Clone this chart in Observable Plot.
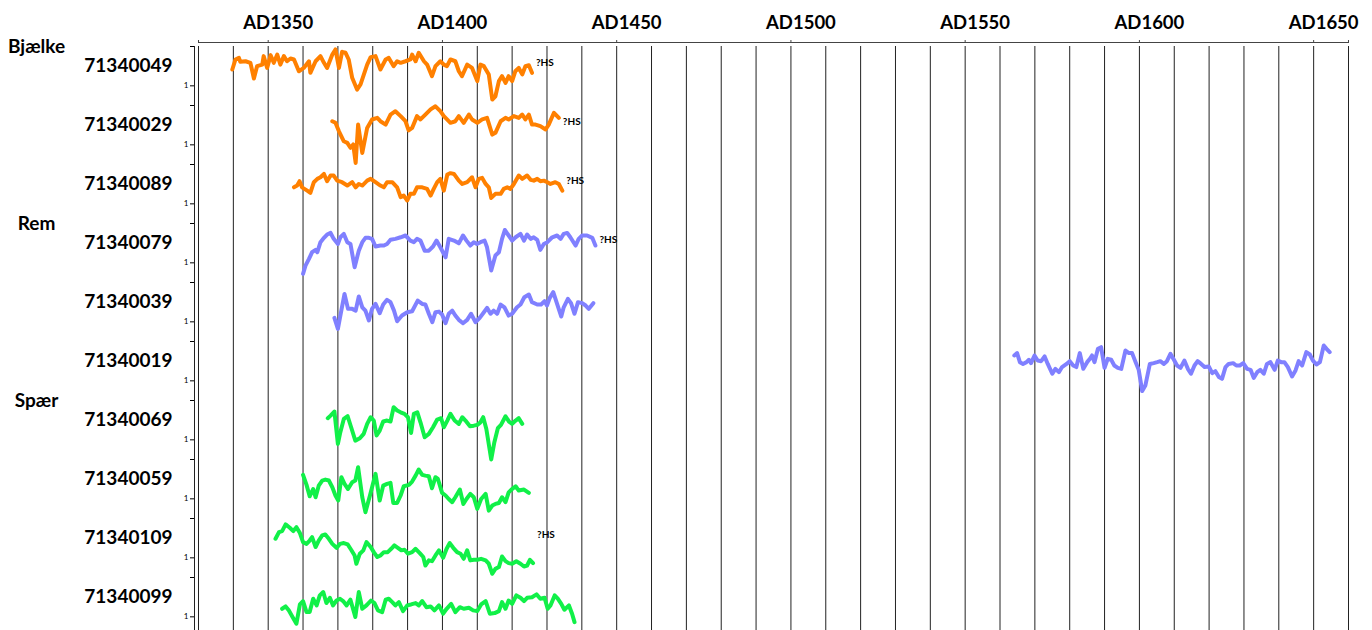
<!DOCTYPE html>
<html><head><meta charset="utf-8">
<script src="https://cdn.jsdelivr.net/npm/d3@7"></script>
<script src="https://cdn.jsdelivr.net/npm/@observablehq/plot@0.6"></script>
<style>
html,body{margin:0;padding:0;background:#fff;overflow:hidden;}
#chart svg{display:block;}
</style></head><body><div id="chart"></div>
<script>
// [year, index value]
const s71340049 = [[1339.7,1.83],[1340.6,2.34],[1341.6,2.42],[1342.0,2.22],[1343.5,2.25],[1344.9,2.17],[1345.9,1.37],[1346.8,2.00],[1348.3,2.08],[1348.7,2.51],[1349.7,1.91],[1350.7,2.56],[1351.6,2.17],[1352.6,2.59],[1353.5,2.08],[1354.5,2.51],[1355.4,2.25],[1356.4,2.39],[1357.4,2.34],[1358.8,1.74],[1360.2,1.91],[1361.7,2.25],[1362.1,1.66],[1363.6,2.25],[1365.0,2.51],[1366.0,2.17],[1366.9,1.91],[1368.4,2.59],[1369.3,2.85],[1370.3,1.91],[1371.2,2.73],[1372.2,2.68],[1373.1,2.34],[1374.1,1.41],[1375.5,0.81],[1376.5,1.07],[1378.4,2.08],[1379.4,2.46],[1380.8,2.51],[1382.2,1.83],[1383.7,2.34],[1384.6,2.42],[1386.0,2.00],[1387.0,2.25],[1388.0,2.17],[1389.4,2.25],[1390.8,2.34],[1391.3,2.59],[1392.3,2.25],[1393.2,2.68],[1394.7,2.25],[1395.6,2.08],[1397.0,1.49],[1398.0,2.00],[1399.4,2.25],[1400.4,2.08],[1401.3,2.00],[1402.3,2.34],[1403.7,2.25],[1404.7,1.74],[1405.6,1.49],[1407.1,2.08],[1408.5,1.91],[1410.0,1.24],[1410.9,2.08],[1411.9,2.00],[1413.3,1.58],[1414.3,0.30],[1415.2,0.47],[1416.2,1.24],[1417.1,1.49],[1418.1,1.15],[1419.0,1.49],[1420.0,1.24],[1420.9,1.74],[1421.9,1.91],[1422.9,1.58],[1423.8,2.00],[1424.8,2.05],[1425.7,1.66]];
const s71340029 = [[1368.4,2.20],[1369.3,2.12],[1370.3,1.69],[1371.7,1.18],[1372.7,1.10],[1373.6,0.85],[1374.4,1.02],[1375.1,0.08],[1375.8,2.03],[1377.0,0.59],[1378.4,1.86],[1379.8,2.29],[1381.3,2.37],[1382.2,2.20],[1383.7,2.03],[1385.1,2.54],[1386.5,2.71],[1388.0,2.46],[1389.4,2.20],[1390.3,1.73],[1391.3,1.86],[1392.7,2.46],[1393.7,2.29],[1395.1,2.54],[1396.6,2.80],[1398.0,2.96],[1399.4,2.71],[1400.4,2.46],[1402.3,2.12],[1403.7,2.20],[1404.7,2.46],[1406.1,2.12],[1407.6,2.54],[1408.5,2.29],[1410.0,2.12],[1411.4,2.29],[1412.8,2.37],[1414.3,1.52],[1415.2,1.61],[1416.7,2.20],[1418.1,2.37],[1419.0,2.29],[1420.5,2.46],[1421.9,2.37],[1422.9,2.54],[1423.8,2.29],[1424.8,2.54],[1425.7,2.03],[1426.7,2.03],[1428.1,1.95],[1429.6,1.78],[1430.5,2.03],[1432.0,2.63],[1433.4,2.37]];
const s71340089 = [[1357.4,1.84],[1358.3,1.93],[1359.0,2.15],[1359.7,1.84],[1361.2,1.67],[1362.1,1.56],[1363.1,2.10],[1364.1,2.27],[1365.0,2.35],[1366.0,2.52],[1366.9,2.15],[1367.9,2.44],[1368.8,2.44],[1369.8,2.18],[1371.2,2.10],[1372.7,1.93],[1374.1,2.10],[1375.1,1.84],[1376.0,2.01],[1377.0,1.93],[1378.4,2.18],[1379.4,2.27],[1380.8,2.10],[1382.2,1.93],[1383.2,1.84],[1384.1,2.10],[1385.6,2.10],[1387.0,1.84],[1388.0,1.34],[1388.9,1.42],[1389.9,1.17],[1390.8,1.51],[1391.8,1.51],[1392.7,1.84],[1394.2,1.84],[1395.6,1.76],[1396.6,1.42],[1397.5,1.76],[1398.5,2.10],[1399.4,2.27],[1400.4,1.67],[1401.4,2.49],[1402.3,2.56],[1403.3,2.52],[1404.7,2.18],[1405.7,2.01],[1407.1,2.10],[1408.5,2.35],[1409.5,1.84],[1410.4,2.27],[1411.4,2.32],[1412.4,2.01],[1413.3,1.84],[1414.0,1.30],[1415.2,1.51],[1416.7,1.51],[1417.6,1.76],[1418.6,1.84],[1419.5,1.76],[1420.5,2.01],[1421.9,2.44],[1422.9,2.27],[1424.3,2.44],[1425.3,2.22],[1426.2,2.18],[1427.2,2.27],[1428.1,2.15],[1429.1,2.18],[1430.1,2.10],[1431.0,2.01],[1432.4,2.10],[1433.4,2.01],[1434.4,1.67]];
const s71340079 = [[1360.0,0.44],[1360.7,0.86],[1361.7,1.20],[1362.6,1.54],[1363.6,1.66],[1364.1,1.54],[1365.0,2.05],[1366.0,2.27],[1366.9,2.44],[1367.9,2.52],[1368.8,2.22],[1370.0,1.96],[1370.7,2.30],[1371.7,2.47],[1372.7,2.05],[1373.6,1.96],[1374.8,0.78],[1376.0,1.62],[1377.0,2.05],[1377.9,2.27],[1378.9,2.27],[1379.8,2.22],[1380.8,1.83],[1382.2,1.88],[1383.2,1.88],[1384.1,1.96],[1385.1,2.17],[1386.5,2.22],[1388.0,2.30],[1389.4,2.39],[1390.8,2.13],[1391.8,2.05],[1392.7,2.22],[1393.7,2.13],[1394.9,1.62],[1396.1,1.62],[1397.3,1.83],[1398.3,2.13],[1399.4,1.79],[1400.9,1.28],[1401.8,2.22],[1403.3,2.13],[1404.7,1.99],[1405.9,2.39],[1406.9,2.13],[1408.0,1.88],[1409.0,2.05],[1409.9,1.96],[1410.9,2.05],[1412.1,2.13],[1412.8,1.79],[1414.0,0.61],[1415.2,1.37],[1416.2,1.54],[1417.1,2.22],[1417.9,2.67],[1419.0,2.39],[1420.0,2.13],[1421.0,2.30],[1422.4,2.47],[1423.4,2.13],[1424.3,2.44],[1425.3,2.22],[1426.2,2.30],[1427.2,2.17],[1428.1,1.66],[1429.1,1.96],[1430.1,2.05],[1431.5,2.30],[1432.9,2.39],[1433.9,2.22],[1434.8,2.47],[1435.8,2.52],[1436.7,2.30],[1438.2,1.88],[1439.1,2.22],[1440.1,2.39],[1441.5,2.39],[1443.0,2.27],[1443.9,1.88]];
const s71340039 = [[1369.0,1.20],[1370.0,0.64],[1370.9,1.49],[1371.9,2.42],[1372.9,1.66],[1374.1,1.66],[1375.1,1.57],[1376.0,2.29],[1377.0,1.74],[1377.9,1.57],[1378.9,1.07],[1379.8,1.66],[1380.8,1.91],[1382.0,1.44],[1383.0,1.88],[1384.1,2.12],[1385.1,2.00],[1386.1,1.57],[1387.0,1.03],[1388.4,1.32],[1389.9,1.49],[1391.3,1.54],[1392.9,2.08],[1394.2,1.91],[1395.1,1.88],[1396.1,1.41],[1397.1,0.98],[1398.0,1.49],[1399.0,1.52],[1399.9,1.37],[1400.9,0.93],[1401.8,1.41],[1402.8,1.57],[1403.7,1.32],[1404.7,1.10],[1405.9,0.93],[1407.1,1.10],[1408.2,1.41],[1409.5,0.98],[1410.7,1.20],[1411.9,1.49],[1412.8,1.71],[1413.8,1.41],[1414.7,1.57],[1415.7,1.41],[1416.7,1.88],[1417.8,1.74],[1419.0,1.32],[1420.0,1.41],[1421.4,1.74],[1422.4,1.88],[1423.5,2.25],[1424.8,2.39],[1425.7,2.00],[1427.2,1.88],[1428.3,1.88],[1429.3,2.05],[1430.0,1.83],[1430.8,2.22],[1431.8,2.51],[1432.9,1.91],[1434.1,1.27],[1434.8,1.74],[1436.0,2.17],[1436.9,1.95],[1437.9,1.41],[1438.9,2.00],[1440.1,1.95],[1441.1,1.83],[1442.0,1.66],[1443.3,1.95]];
const s71340019 = [[1564.1,2.29],[1564.9,2.41],[1565.7,1.95],[1566.6,1.86],[1567.6,1.95],[1568.3,2.07],[1568.9,1.90],[1569.9,2.29],[1570.8,2.03],[1571.8,2.00],[1572.8,2.24],[1573.7,1.86],[1575.0,1.36],[1575.9,1.61],[1576.9,1.44],[1577.8,1.70],[1579.1,1.86],[1580.0,2.00],[1581.0,1.78],[1581.9,1.70],[1582.9,2.41],[1583.9,1.61],[1585.0,1.95],[1585.8,2.12],[1586.4,2.29],[1587.1,1.95],[1588.1,2.63],[1589.0,2.71],[1590.0,1.66],[1590.9,2.12],[1591.9,2.07],[1592.8,1.78],[1593.8,1.66],[1594.8,1.61],[1596.0,2.54],[1597.0,2.41],[1597.9,2.41],[1598.9,1.95],[1599.8,1.56],[1600.8,0.48],[1601.7,0.76],[1603.0,1.86],[1604.1,1.90],[1605.1,1.95],[1606.0,2.00],[1607.0,1.86],[1607.9,2.00],[1608.9,2.37],[1609.9,2.07],[1610.8,1.78],[1611.8,1.66],[1612.9,2.03],[1613.9,1.61],[1614.8,1.36],[1615.8,1.78],[1616.7,2.00],[1617.7,1.86],[1618.7,1.70],[1619.9,1.73],[1620.9,1.39],[1621.8,1.49],[1622.8,1.19],[1623.7,1.10],[1624.7,1.70],[1625.6,1.86],[1626.9,1.90],[1627.8,1.78],[1628.8,1.78],[1629.8,1.90],[1630.9,1.61],[1631.9,1.56],[1632.8,1.15],[1633.8,1.44],[1634.7,1.56],[1635.7,1.36],[1636.6,1.86],[1637.6,1.95],[1638.8,1.56],[1639.7,2.03],[1640.7,1.95],[1641.6,1.95],[1642.6,1.70],[1643.8,1.22],[1644.8,1.53],[1645.7,2.00],[1646.7,1.78],[1647.9,2.46],[1648.9,2.34],[1649.8,2.03],[1650.8,1.83],[1651.8,1.95],[1652.9,2.80],[1653.7,2.63],[1654.6,2.46]];
const s71340069 = [[1367.1,2.10],[1367.9,2.23],[1369.0,2.44],[1370.0,0.79],[1370.7,1.39],[1371.7,2.06],[1372.8,2.20],[1373.8,1.64],[1375.0,0.96],[1376.3,1.08],[1377.4,1.30],[1378.4,1.81],[1379.4,2.15],[1380.3,1.98],[1381.1,1.22],[1382.0,1.47],[1383.0,1.93],[1384.1,1.98],[1385.1,1.93],[1386.0,2.66],[1387.0,2.49],[1388.0,2.40],[1389.1,2.32],[1390.1,2.15],[1391.0,1.35],[1391.8,2.32],[1392.8,2.40],[1393.7,1.89],[1394.9,1.13],[1396.1,1.30],[1397.3,1.64],[1398.5,2.03],[1399.6,2.10],[1400.4,1.64],[1401.4,1.98],[1402.3,2.32],[1403.5,1.98],[1404.7,1.81],[1405.7,2.15],[1406.6,1.98],[1407.9,1.69],[1409.0,1.72],[1410.0,1.76],[1410.9,1.89],[1411.7,2.15],[1412.6,1.55],[1414.0,0.00],[1414.9,0.88],[1415.9,1.59],[1416.8,1.76],[1418.1,2.20],[1419.1,1.93],[1420.0,1.81],[1421.0,1.98],[1421.9,2.10],[1422.9,1.81]];
const s71340059 = [[1360.0,2.22],[1361.0,1.71],[1361.9,1.13],[1362.9,1.50],[1363.6,1.08],[1364.5,1.67],[1365.5,1.93],[1366.4,1.98],[1367.4,1.93],[1368.4,1.59],[1369.3,1.17],[1370.1,0.91],[1371.0,2.10],[1371.9,1.76],[1372.9,1.50],[1374.1,1.84],[1375.0,1.93],[1375.8,2.61],[1377.0,1.08],[1377.9,0.32],[1379.2,1.17],[1380.8,2.27],[1382.0,0.91],[1383.0,1.67],[1384.1,1.76],[1385.1,1.81],[1385.9,0.79],[1387.0,0.79],[1388.0,1.17],[1388.9,1.64],[1390.4,1.71],[1391.3,1.88],[1392.3,2.18],[1393.2,2.49],[1394.2,2.22],[1395.1,2.18],[1396.1,2.15],[1397.0,1.54],[1398.0,2.10],[1398.7,2.01],[1399.9,1.30],[1400.9,1.17],[1401.8,0.99],[1402.8,0.83],[1403.7,1.08],[1405.0,1.47],[1406.0,0.74],[1406.9,0.99],[1408.0,1.25],[1409.0,1.08],[1410.0,0.49],[1411.1,0.99],[1412.4,1.25],[1413.3,0.40],[1414.3,0.66],[1415.2,0.74],[1416.2,0.79],[1417.1,1.08],[1418.1,0.83],[1419.0,1.33],[1420.0,1.50],[1421.0,1.64],[1421.9,1.42],[1423.4,1.47],[1424.8,1.30]];
const s71340109 = [[1352.1,1.97],[1353.1,2.31],[1354.0,2.36],[1355.0,2.70],[1356.2,2.53],[1357.2,2.36],[1358.1,2.56],[1359.1,2.26],[1360.0,1.80],[1361.0,1.71],[1361.9,1.88],[1362.6,2.05],[1363.6,1.55],[1364.5,1.88],[1365.5,2.14],[1366.4,2.19],[1367.4,1.97],[1368.4,1.71],[1369.6,1.51],[1370.6,1.71],[1371.7,1.75],[1372.8,1.68],[1373.8,1.41],[1374.8,1.12],[1375.3,0.70],[1376.3,1.21],[1377.3,1.38],[1378.2,1.80],[1379.4,1.55],[1380.3,1.29],[1381.3,1.04],[1382.2,1.12],[1383.2,1.29],[1384.3,1.29],[1385.3,1.46],[1386.2,1.63],[1387.2,1.51],[1388.2,1.38],[1389.1,1.41],[1390.1,1.21],[1391.3,1.29],[1392.3,1.46],[1393.5,1.24],[1394.5,1.04],[1395.1,0.61],[1396.1,0.87],[1397.0,0.83],[1398.0,1.12],[1399.0,1.38],[1400.2,1.00],[1401.2,1.46],[1402.1,1.75],[1403.1,1.51],[1404.2,1.29],[1405.2,1.21],[1406.1,0.95],[1407.1,1.38],[1408.0,0.87],[1409.0,0.90],[1410.0,0.90],[1411.1,0.95],[1412.4,0.87],[1413.3,0.70],[1414.3,0.19],[1415.2,0.44],[1416.2,0.53],[1417.1,1.07],[1418.1,0.83],[1419.0,0.73],[1420.0,0.70],[1421.2,0.83],[1422.4,0.70],[1423.4,0.56],[1424.3,0.61],[1425.1,0.90],[1426.0,0.73]];
const s71340099 = [[1354.0,1.41],[1355.0,1.53],[1355.9,1.33],[1356.9,1.02],[1358.1,0.65],[1359.1,1.63],[1360.0,1.80],[1361.0,1.24],[1361.9,1.24],[1362.9,1.92],[1363.9,1.58],[1364.8,2.09],[1365.8,2.26],[1366.7,1.70],[1367.7,1.97],[1368.6,1.58],[1369.6,1.83],[1370.6,1.92],[1371.5,1.80],[1372.5,1.58],[1373.6,1.87],[1375.0,0.99],[1376.0,2.26],[1377.0,1.41],[1378.2,1.58],[1379.5,1.83],[1380.5,1.70],[1381.5,1.33],[1382.7,1.24],[1383.7,1.87],[1384.6,1.92],[1385.6,1.75],[1386.5,1.58],[1387.5,1.75],[1388.7,1.29],[1389.9,1.58],[1391.0,1.63],[1392.3,1.70],[1393.2,1.58],[1394.2,1.80],[1395.4,1.49],[1396.6,1.53],[1397.7,1.33],[1399.0,1.58],[1400.2,1.16],[1401.2,1.41],[1402.5,1.66],[1403.7,1.24],[1405.0,1.49],[1406.1,1.41],[1407.6,1.46],[1408.8,1.33],[1410.0,1.29],[1411.1,1.63],[1412.4,1.80],[1413.6,1.16],[1415.0,1.19],[1416.2,1.29],[1417.1,1.75],[1418.1,1.41],[1419.0,1.83],[1420.0,1.66],[1421.2,2.09],[1422.4,1.97],[1423.4,1.80],[1424.3,1.97],[1425.7,2.00],[1427.0,2.14],[1428.1,1.92],[1429.3,1.97],[1430.2,1.41],[1431.0,1.58],[1432.2,2.09],[1433.1,1.92],[1434.1,1.66],[1435.0,1.36],[1436.3,1.58],[1437.2,1.16],[1437.9,0.73]];

const seriesIds = ["71340049","71340029","71340089","71340079","71340039","71340019","71340069","71340059","71340109","71340099"];
const seriesValues = [s71340049,s71340029,s71340089,s71340079,s71340039,s71340019,s71340069,s71340059,s71340109,s71340099];
const seriesGroup = ["Bjælke","Bjælke","Bjælke","Rem","Rem","Rem","Spær","Spær","Spær","Spær"];
const groupNames = ["Bjælke","Rem","Spær"];
const groupColors = ["#ff8000","#8080ff","#11f048"];
const hsSeries = ["71340049","71340029","71340089","71340079","71340109"];
const gridYears = [1330,1340,1350,1360,1370,1380,1390,1400,1410,1420,1430,1440,1450,1460,1470,1480,1490,1500,1510,1520,1530,1540,1550,1560,1570,1580,1590,1600,1610,1620,1630,1640,1650,1660];
const axisTicks = [1330,1350,1400,1450,1500,1550,1600,1650,1660];
const labelTicks = [1350,1400,1450,1500,1550,1600,1650];
const axisLabels = ["AD1350","AD1400","AD1450","AD1500","AD1550","AD1600","AD1650"];
const yTicks = [1, 3];
const yTickLabels = ["1", ""];
const yearDomain = [1330, 1660];
const indexDomain = [0, 3];

const rows = [];
seriesIds.forEach((id, i) => {
  for (const [year, v] of seriesValues[i]) rows.push({id, group: seriesGroup[i], year, v});
});
const hsData = hsSeries.map(id => {
  const vals = seriesValues[seriesIds.indexOf(id)];
  return {id, year: vals[vals.length - 1][0]};
});
const groupData = groupNames.map(name => ({name, id: seriesIds[seriesGroup.indexOf(name)]}));
const topId = seriesIds[0];

const chart = Plot.plot({
  width: 1372,
  height: 636,
  marginTop: 46,
  marginBottom: 0,
  marginLeft: 198,
  marginRight: 24,
  style: {fontFamily: "Lato, 'Open Sans', sans-serif", color: "#000", background: "#fff"},
  x: {domain: yearDomain},
  y: {domain: indexDomain},
  fy: {domain: seriesIds, padding: 0},
  color: {domain: groupNames, range: groupColors},
  marks: [
    Plot.ruleX(gridYears, {stroke: "#222", strokeWidth: 1}),
    Plot.ruleX([yearDomain[0]], {stroke: "#222", strokeWidth: 1, dx: -4}),
    Plot.ruleY([{id: topId}], {fy: "id", y: () => indexDomain[1], x1: () => yearDomain[0], x2: () => yearDomain[1], stroke: "#444", dy: -4}),
    Plot.axisX({anchor: "top", ticks: axisTicks, tickFormat: () => "", tickSize: 3, dy: -4, label: null, stroke: "#444"}),
    Plot.axisX({anchor: "top", ticks: labelTicks, tickFormat: d => axisLabels[labelTicks.indexOf(d)], tickSize: 0, tickPadding: 14, dy: -4, dx: 10, fontSize: 18.5, fontWeight: "bold", label: null}),
    Plot.axisY({anchor: "left", ticks: yTicks, tickFormat: d => yTickLabels[yTicks.indexOf(d)], tickSize: 4, tickPadding: 2, dx: -4, fontSize: 8, label: null}),
    Plot.axisFy({anchor: "left", tickSize: 0, tickPadding: 26, dy: -10, fontSize: 19, fontWeight: "bold", label: null}),
    Plot.line(rows, {x: "year", y: "v", z: "id", fy: "id", stroke: "group", strokeWidth: 4, strokeLinejoin: "round", strokeLinecap: "round"}),
    Plot.text(hsData, {x: "year", fy: "id", frameAnchor: "top", dy: 12, dx: 4, text: () => "?HS", textAnchor: "start", fontSize: 10, fontWeight: "bold"}),
    Plot.text(groupData, {fy: "id", frameAnchor: "top-left", dx: -162, text: "name", textAnchor: "middle", lineAnchor: "middle", fontSize: 19, fontWeight: "bold"})
  ]
});
document.getElementById("chart").appendChild(chart);
</script>
</body></html>
